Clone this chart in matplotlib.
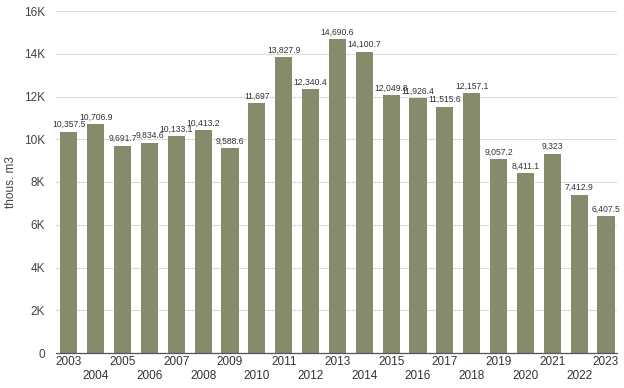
import matplotlib
matplotlib.use("Agg")
import matplotlib.pyplot as plt

years = [str(y) for y in range(2003, 2024)]
values = [10357.5, 10706.9, 9691.7, 9834.6, 10133.1, 10413.2, 9588.6, 11697,
          13827.9, 12340.4, 14690.6, 14100.7, 12049.8, 11926.4, 11515.6, 12157.1,
          9057.2, 8411.1, 9323, 7412.9, 6407.5]
labels = ["10,357.5", "10,706.9", "9,691.7", "9,834.6", "10,133.1", "10,413.2", "9,588.6",
          "11,697", "13,827.9", "12,340.4", "14,690.6", "14,100.7", "12,049.8", "11,926.4",
          "11,515.6", "12,157.1", "9,057.2", "8,411.1", "9,323", "7,412.9", "6,407.5"]
yticks = [0, 2000, 4000, 6000, 8000, 10000, 12000, 14000, 16000]
ytick_labels = ["0", "2K", "4K", "6K", "8K", "10K", "12K", "14K", "16K"]

plt.rcParams['font.family'] = ['Liberation Sans', 'DejaVu Sans']

fig = plt.figure(figsize=(6.24, 3.88), dpi=100)
ax = fig.add_axes([56/624, 1-353/388, (617-56)/624, (353-11)/388])

x = list(range(len(years)))
ax.bar(x, values, width=0.64, color='#878b6b', zorder=2)
for xi, v, lab in zip(x, values, labels):
    ax.text(xi, v + 120, lab, ha='center', va='bottom', fontsize=6.2, color='#333333', zorder=3)

ax.set_xlim(-0.48, len(years) - 1 + 0.41)
ax.set_ylim(0, 16000)
ax.set_yticks(yticks)
ax.set_yticklabels(ytick_labels)
ax.grid(axis='y', color='#dddddd', linewidth=0.8, zorder=0)
ax.set_axisbelow(True)
for s in ['top', 'right', 'left']:
    ax.spines[s].set_visible(False)
ax.spines['bottom'].set_color('#555555')
ax.spines['bottom'].set_linewidth(0.9)
ax.tick_params(axis='y', length=0, labelsize=8.5, labelcolor='#444444', pad=8)
ax.tick_params(axis='x', length=0, labelsize=8.5, labelcolor='#333333', pad=2)

ax.set_xticks(x)
ax.set_xticklabels([y if i % 2 == 0 else "\n" + y for i, y in enumerate(years)], linespacing=1.3)
ax.set_ylabel("thous. m3", fontsize=8.5, color='#444444', labelpad=5)

fig.savefig("out.png", dpi=100)
